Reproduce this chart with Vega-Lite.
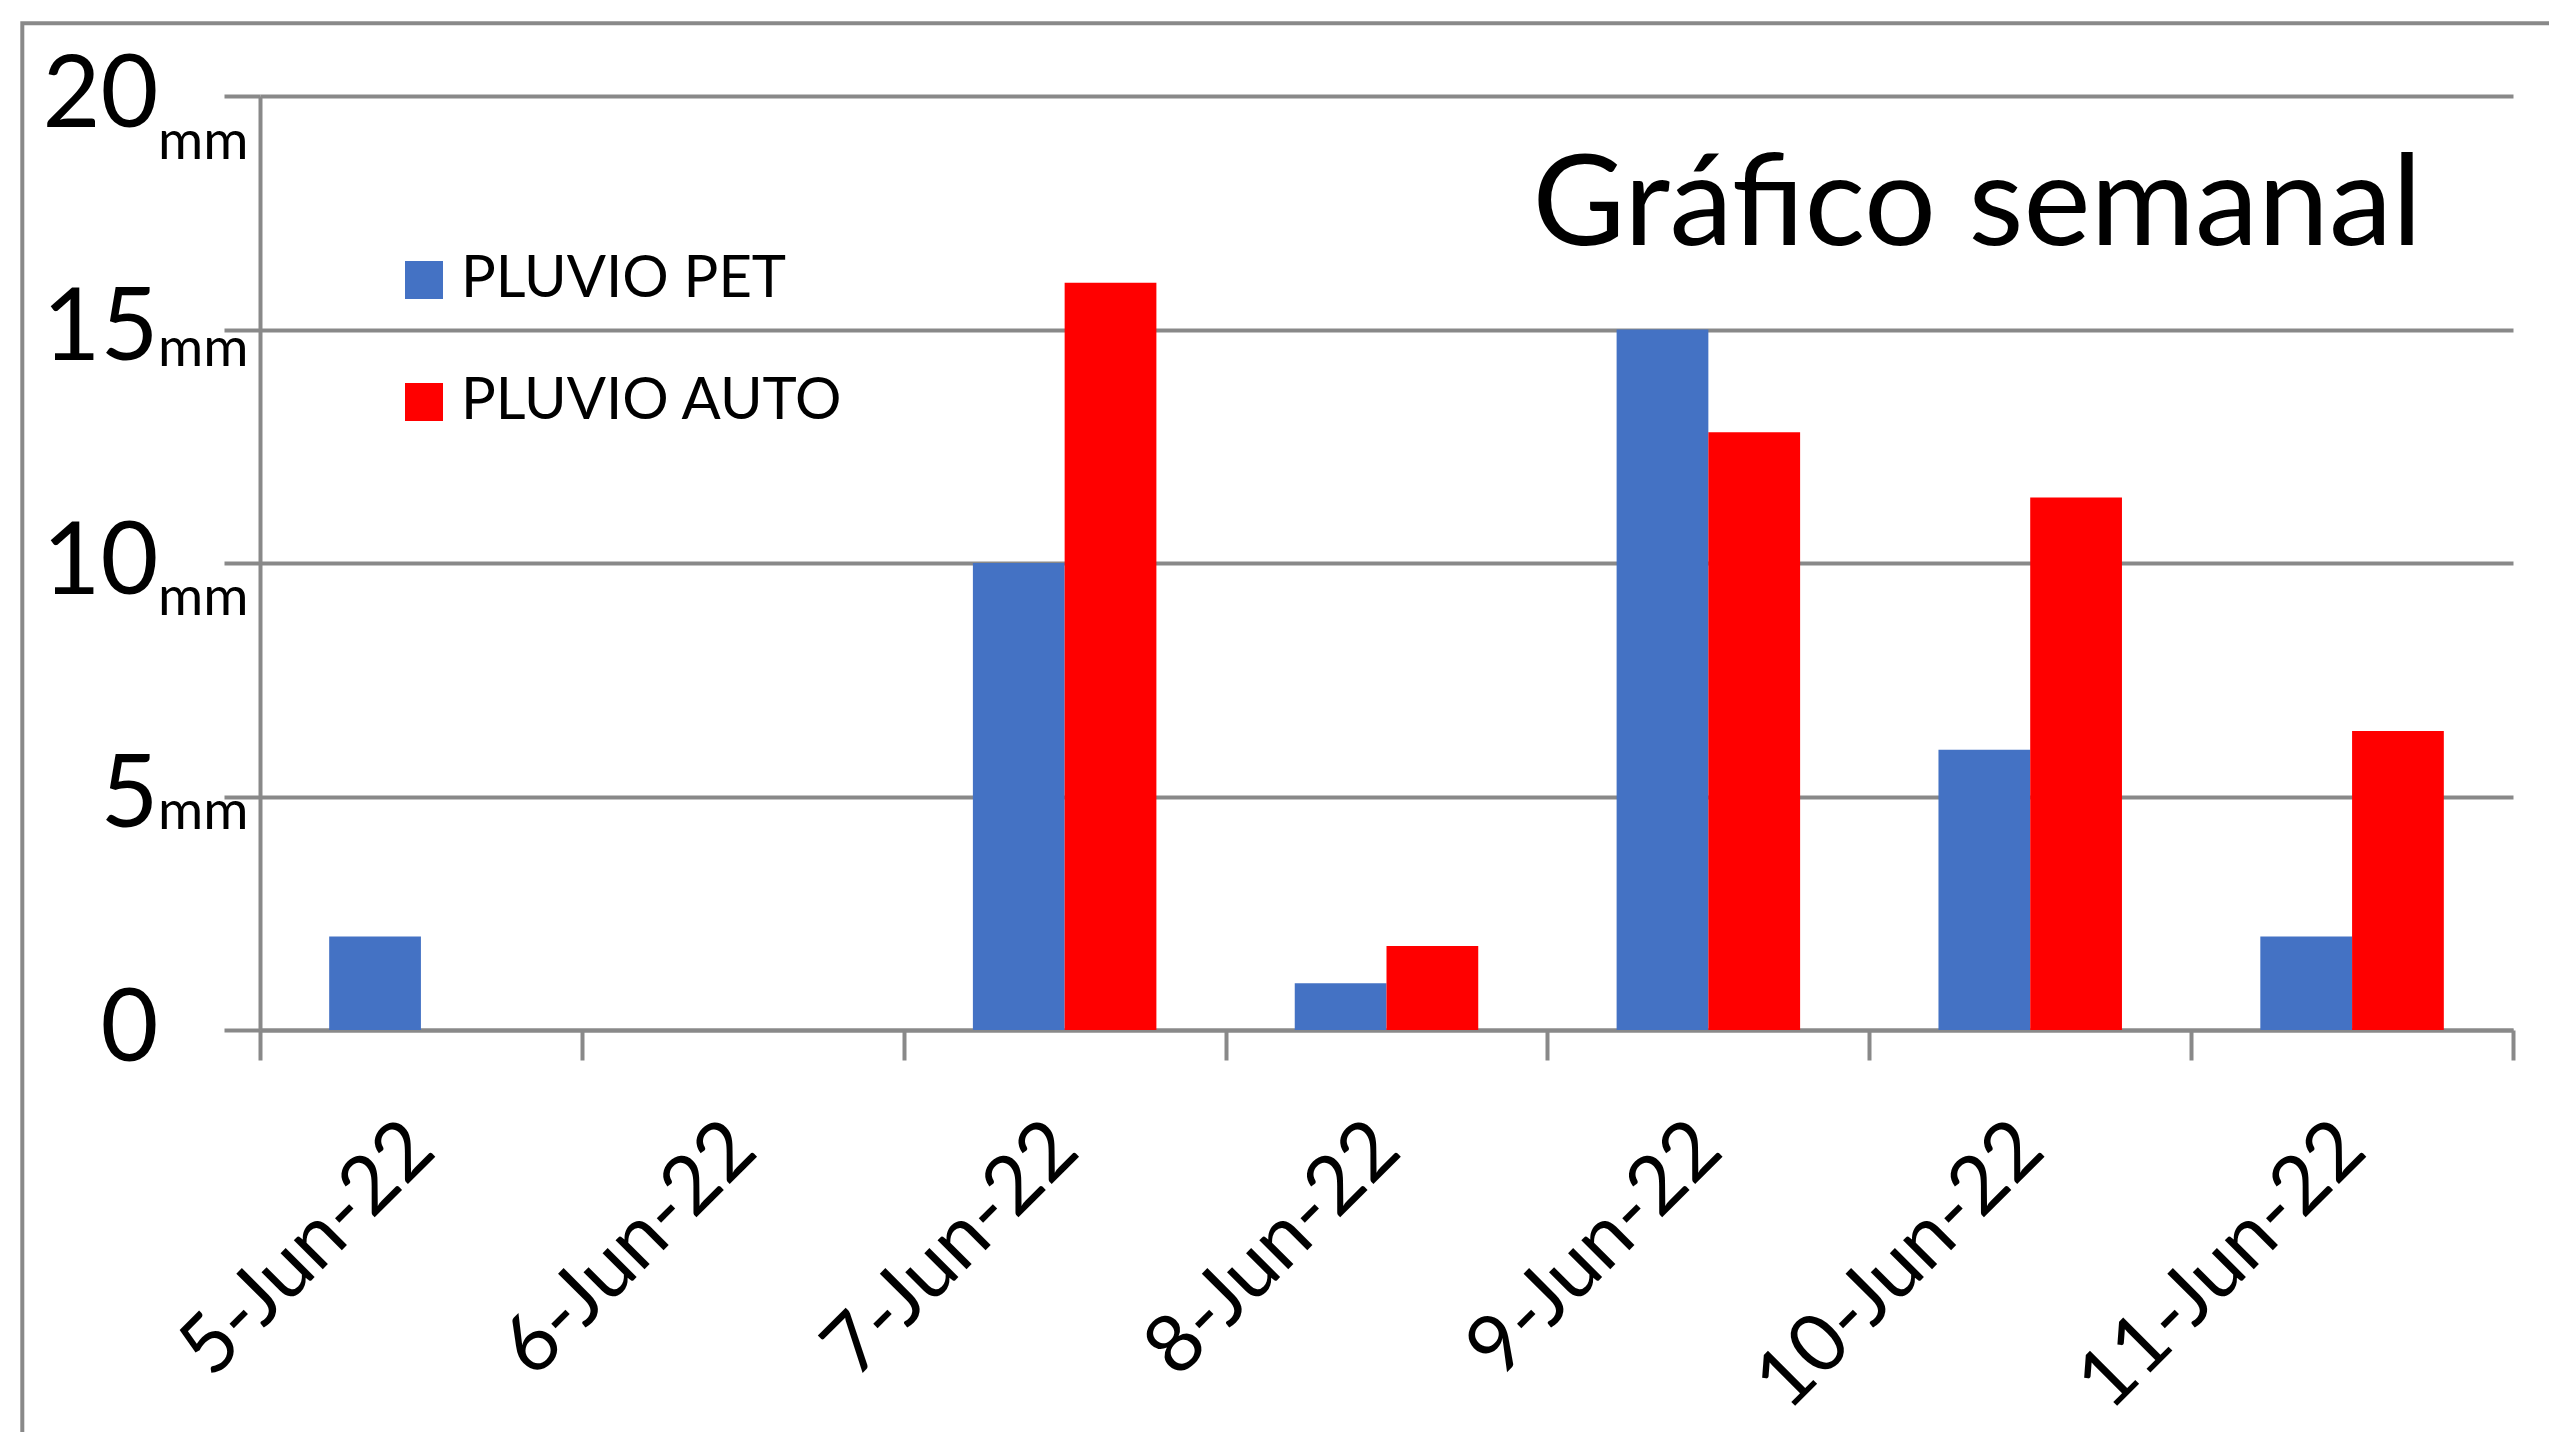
{
  "$schema": "https://vega.github.io/schema/vega-lite/v6.json",
  "width": 2253,
  "height": 934,
  "autosize": {"type": "none"},
  "padding": {"left": 260, "top": 96, "right": 36, "bottom": 402},
  "background": "white",
  "config": {"font": "Lato", "view": {"stroke": null}},
  "title": {
    "text": "Gráfico semanal",
    "anchor": "end",
    "frame": "group",
    "orient": "top",
    "offset": -148,
    "dy": 203,
    "baseline": "alphabetic",
    "fontSize": 127,
    "fontWeight": "normal",
    "color": "black",
    "font": "Lato",
    "dx": -91
  },
  "layer": [
    {
      "data": {
        "values": [
          {"fecha": "5-Jun-22", "serie": "PLUVIO PET", "mm": 2},
          {"fecha": "5-Jun-22", "serie": "PLUVIO AUTO", "mm": 0},
          {"fecha": "6-Jun-22", "serie": "PLUVIO PET", "mm": 0},
          {"fecha": "6-Jun-22", "serie": "PLUVIO AUTO", "mm": 0},
          {"fecha": "7-Jun-22", "serie": "PLUVIO PET", "mm": 10},
          {"fecha": "7-Jun-22", "serie": "PLUVIO AUTO", "mm": 16},
          {"fecha": "8-Jun-22", "serie": "PLUVIO PET", "mm": 1},
          {"fecha": "8-Jun-22", "serie": "PLUVIO AUTO", "mm": 1.8},
          {"fecha": "9-Jun-22", "serie": "PLUVIO PET", "mm": 15},
          {"fecha": "9-Jun-22", "serie": "PLUVIO AUTO", "mm": 12.8},
          {"fecha": "10-Jun-22", "serie": "PLUVIO PET", "mm": 6},
          {"fecha": "10-Jun-22", "serie": "PLUVIO AUTO", "mm": 11.4},
          {"fecha": "11-Jun-22", "serie": "PLUVIO PET", "mm": 2},
          {"fecha": "11-Jun-22", "serie": "PLUVIO AUTO", "mm": 6.4}
        ]
      },
      "mark": {"type": "bar"},
      "encoding": {
        "x": {
          "field": "fecha",
          "type": "nominal",
          "sort": null,
          "scale": {"paddingInner": 0, "paddingOuter": 0},
          "axis": {
            "orient": "bottom",
            "title": null,
            "domainColor": "#898989",
            "domainWidth": 4,
            "tickColor": "#898989",
            "tickWidth": 4,
            "tickSize": 30,
            "tickBand": "extent",
            "labelAngle": -45,
            "labelAlign": "right",
            "labelBaseline": "middle",
            "labelFontSize": 81,
            "labelFont": "Lato",
            "labelPadding": 76,
            "labelColor": "black",
            "labelLimit": 1000,
            "labelOverlap": false,
            "grid": false
          }
        },
        "xOffset": {
          "field": "serie",
          "type": "nominal",
          "sort": ["PLUVIO PET", "PLUVIO AUTO"],
          "scale": {"paddingInner": 0, "paddingOuter": 0.754}
        },
        "y": {
          "field": "mm",
          "type": "quantitative",
          "scale": {"domain": [0, 20], "nice": false},
          "axis": {
            "orient": "left",
            "values": [0, 5, 10, 15, 20],
            "title": null,
            "grid": true,
            "gridColor": "#898989",
            "gridWidth": 4,
            "domainColor": "#898989",
            "domainWidth": 4,
            "tickColor": "#898989",
            "tickWidth": 4,
            "tickSize": 36,
            "labelFontSize": 100,
            "labelFont": "Lato",
            "labelColor": "black",
            "labelPadding": 66,
            "labelFlush": false,
            "labelBaseline": "middle",
            "labelOverlap": false,
            "labelLimit": 1000
          }
        },
        "color": {
          "field": "serie",
          "type": "nominal",
          "scale": {"domain": ["PLUVIO PET", "PLUVIO AUTO"], "range": ["#4472C4", "#FF0000"]},
          "legend": {
            "orient": "none",
            "legendX": 135,
            "legendY": 155,
            "title": null,
            "symbolType": "square",
            "symbolSize": 1444,
            "symbolStrokeWidth": 0,
            "labelFontSize": 58,
            "labelFont": "Lato",
            "labelColor": "black",
            "rowPadding": 64,
            "labelOffset": 8,
            "padding": 0,
            "labelLimit": 1000
          }
        }
      }
    },
    {
      "data": {"values": [{"frame": "border"}]},
      "mark": {"type": "rect", "filled": false, "color": "#898989", "strokeWidth": 4, "clip": false},
      "encoding": {
        "x": {"datum": -0.1055, "type": "quantitative", "scale": {"domain": [0, 1], "nice": false, "zero": false}, "axis": null},
        "x2": {"datum": 1.2},
        "y": {
          "datum": 21.56,
          "type": "quantitative",
          "scale": {"domain": [0, 20], "nice": false},
          "axis": {
            "orient": "left",
            "values": [19.03, 14.59, 9.26, 4.68],
            "labelExpr": "'mm'",
            "ticks": false,
            "tickSize": 0,
            "domain": false,
            "grid": false,
            "title": null,
            "labelFontSize": 55,
            "labelFont": "Lato",
            "labelColor": "black",
            "labelPadding": 12,
            "labelFlush": false,
            "labelOverlap": false,
            "labelBaseline": "middle",
            "labelLimit": 1000
          }
        },
        "y2": {"datum": -12}
      }
    }
  ],
  "resolve": {"scale": {"x": "independent"}, "axis": {"x": "independent", "y": "independent"}}
}
